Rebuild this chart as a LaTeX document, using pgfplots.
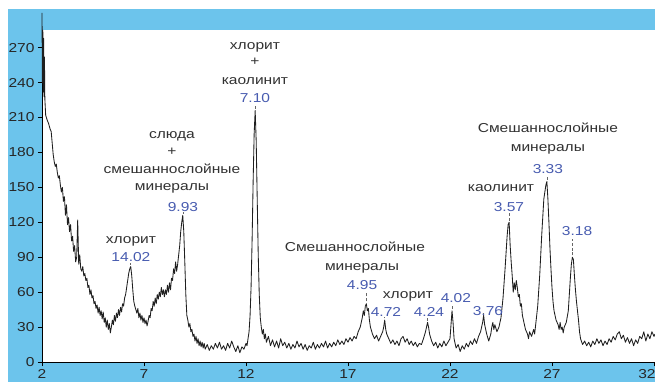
\documentclass[border=0pt]{standalone}
\usepackage{pgfplots}
\pgfplotsset{compat=1.18}
\usepackage{fontspec}
\setmainfont{Liberation Sans}[FakeStretch=1.2]
\definecolor{bgblue}{RGB}{108,196,236}
\definecolor{numblue}{RGB}{72,92,176}
\definecolor{labgray}{RGB}{50,50,50}
\newcommand{\lab}[3]{\node[text=labgray, font=\fontsize{13}{15}\selectfont, inner sep=0pt, anchor=base, yshift=-3.4bp] at (axis cs:#1,#2) {#3};}
\newcommand{\num}[3]{\node[text=numblue, font=\fontsize{13}{15}\selectfont, inner sep=0pt, anchor=base, yshift=-4.6bp] at (axis cs:#1,#2) {#3};}
\newcommand{\mk}[3]{\draw[densely dashed, black!60, line width=0.5pt] (axis cs:#1,#2) -- (axis cs:#1,#3);}
\begin{document}
\begin{tikzpicture}
\fill[white] (-42bp,-20bp) rectangle (613bp,362bp);
\fill[bgblue] (-34bp,-20bp) rectangle (613bp,353bp);
\useasboundingbox (-42bp,-20bp) rectangle (613bp,362bp);
\begin{axis}[
  at={(0,0)}, anchor=south west,
  scale only axis, width=613bp, height=332bp,
  xmin=2, xmax=32.05, ymin=0, ymax=285.2,
  axis x line=bottom, axis y line=left,
  axis line style={-, black, line width=0.8pt},
  xtick={2,7,12,17,22,27},
  extra x ticks={32},
  extra x tick style={xticklabel style={xshift=-7bp}},
  ytick={0,30,...,270},
  tick style={black, line width=0.6pt},
  major tick length=4bp,
  tick align=outside,
  axis background/.style={fill=white},
  clip=false,
  ticklabel style={font=\fontsize{13}{15}\selectfont, text=black!85},
  /pgf/number format/assume math mode=true,
  enlargelimits=false,
]
\addplot[line width=0.85pt, color=black!88, line join=round] coordinates {
(2.00,300) (2.02,240) (2.04,285) (2.06,232) (2.08,278) (2.10,228) (2.12,262) (2.14,226)
(2.18,212) (2.25,208) (2.32,205) (2.40,200) (2.45,198) (2.50,188) (2.55,178) (2.60,172)
(2.65,168) (2.70,170) (2.75,163) (2.80,158) (2.85,160) (2.90,152) (2.95,146) (3.00,150)
(3.05,138) (3.10,142) (3.15,126) (3.20,135) (3.25,118) (3.30,124) (3.35,112) (3.40,118)
(3.45,104) (3.50,108) (3.55,95) (3.60,100) (3.65,86) (3.70,90) (3.75,122) (3.80,84)
(3.85,92) (3.90,80) (3.95,78) (4.00,82) (4.05,74) (4.10,76) (4.15,70) (4.20,72)
(4.25,64) (4.30,66) (4.35,58) (4.40,62) (4.45,55) (4.50,57) (4.55,50) (4.60,52)
(4.65,46) (4.70,49) (4.75,42) (4.80,47) (4.85,40) (4.90,44) (4.95,37) (5.00,43)
(5.05,34) (5.10,38) (5.15,30) (5.20,36) (5.25,28) (5.30,33) (5.35,25) (5.40,30)
(5.45,36) (5.50,32) (5.55,40) (5.60,35) (5.65,42) (5.70,38) (5.75,45) (5.80,40)
(5.85,47) (5.90,43) (5.95,50) (6.00,48) (6.05,55) (6.10,58) (6.15,64) (6.20,70)
(6.25,76) (6.30,80) (6.35,82) (6.40,74) (6.45,62) (6.50,52) (6.55,48) (6.60,45)
(6.65,42) (6.70,46) (6.75,38) (6.80,42) (6.85,36) (6.90,40) (6.95,34) (7.00,38)
(7.05,33) (7.10,36) (7.15,31) (7.20,35) (7.25,40) (7.30,38) (7.35,46) (7.40,44)
(7.45,52) (7.50,48) (7.55,55) (7.60,50) (7.65,58) (7.70,54) (7.75,60) (7.80,56)
(7.85,64) (7.90,58) (7.95,62) (8.00,56) (8.05,62) (8.10,58) (8.15,66) (8.20,60)
(8.25,68) (8.30,62) (8.35,72) (8.40,70) (8.45,80) (8.50,76) (8.55,86) (8.60,78)
(8.65,84) (8.70,92) (8.75,100) (8.80,112) (8.85,120) (8.90,126) (8.95,112) (9.00,86)
(9.05,58) (9.10,40) (9.15,36) (9.20,30) (9.25,33) (9.30,26) (9.35,28) (9.40,22)
(9.45,24) (9.50,18) (9.55,22) (9.60,16) (9.65,20) (9.70,14) (9.75,18) (9.80,13)
(9.85,17) (9.90,12) (9.95,16) (10.0,11) (10.1,15) (10.2,10) (10.3,14) (10.4,11)
(10.5,16) (10.6,12) (10.7,17) (10.8,11) (10.9,14) (11.0,10) (11.1,16) (11.2,12)
(11.3,18) (11.4,13) (11.5,9) (11.6,14) (11.7,8) (11.8,13) (11.9,11) (12.0,16)
(12.05,14) (12.10,20) (12.15,26) (12.20,40) (12.25,65) (12.30,105) (12.35,155) (12.40,196)
(12.45,216) (12.50,190) (12.55,140) (12.60,92) (12.65,58) (12.70,38) (12.75,30) (12.80,24)
(12.85,28) (12.90,20) (12.95,24) (13.0,17) (13.1,22) (13.2,14) (13.3,19) (13.4,13)
(13.5,18) (13.6,12) (13.7,20) (13.8,14) (13.9,17) (14.0,12) (14.1,16) (14.2,11)
(14.3,15) (14.4,12) (14.5,18) (14.6,13) (14.7,16) (14.8,11) (14.9,15) (15.0,10)
(15.1,14) (15.2,12) (15.3,17) (15.4,11) (15.5,15) (15.6,12) (15.7,16) (15.8,13)
(15.9,18) (16.0,12) (16.1,16) (16.2,13) (16.3,17) (16.4,14) (16.5,19) (16.6,15)
(16.7,18) (16.8,15) (16.9,20) (17.0,17) (17.1,21) (17.2,18) (17.3,22) (17.4,20)
(17.5,26) (17.6,30) (17.7,38) (17.75,44) (17.8,40) (17.85,48) (17.9,50) (17.95,44)
(18.0,46) (18.05,36) (18.1,30) (18.2,24) (18.3,20) (18.4,23) (18.5,18) (18.6,22)
(18.7,26) (18.75,30) (18.8,36) (18.85,28) (18.9,24) (19.0,20) (19.1,16) (19.2,19)
(19.3,15) (19.4,18) (19.5,14) (19.6,20) (19.7,22) (19.8,17) (19.9,20) (20.0,15)
(20.1,18) (20.2,14) (20.3,17) (20.4,13) (20.5,16) (20.6,15) (20.7,20) (20.8,26)
(20.9,34) (20.95,30) (21.0,24) (21.1,18) (21.2,14) (21.3,17) (21.4,12) (21.5,16)
(21.6,13) (21.7,18) (21.8,14) (21.9,17) (22.0,20) (22.05,32) (22.1,44) (22.15,34)
(22.2,20) (22.3,12) (22.4,15) (22.5,9) (22.6,14) (22.7,11) (22.8,16) (22.9,13)
(23.0,18) (23.1,15) (23.2,20) (23.3,16) (23.4,22) (23.5,26) (23.6,34) (23.65,40)
(23.7,32) (23.8,24) (23.9,18) (24.0,24) (24.05,30) (24.1,34) (24.15,28) (24.2,32)
(24.3,26) (24.4,30) (24.5,38) (24.6,55) (24.7,80) (24.8,108) (24.85,118) (24.9,120)
(24.95,100) (25.0,86) (25.05,74) (25.1,60) (25.15,68) (25.2,62) (25.25,70) (25.3,64)
(25.35,56) (25.4,58) (25.45,48) (25.5,50) (25.55,40) (25.6,36) (25.7,28) (25.8,24)
(25.85,20) (25.9,26) (26.0,22) (26.1,28) (26.15,24) (26.2,32) (26.3,48) (26.4,75)
(26.5,110) (26.6,140) (26.7,152) (26.75,155) (26.8,140) (26.85,120) (26.9,98) (26.95,80)
(27.0,64) (27.05,52) (27.1,44) (27.15,40) (27.2,36) (27.3,32) (27.35,28) (27.4,34)
(27.45,28) (27.5,30) (27.55,25) (27.6,30) (27.7,34) (27.8,44) (27.85,58) (27.9,72)
(27.95,84) (28.0,90) (28.05,88) (28.1,74) (28.15,62) (28.2,52) (28.25,44) (28.3,36)
(28.35,26) (28.4,20) (28.5,15) (28.6,18) (28.7,14) (28.8,17) (28.9,13) (29.0,18)
(29.1,15) (29.2,20) (29.3,16) (29.4,19) (29.5,14) (29.6,18) (29.7,15) (29.8,20)
(29.9,17) (30.0,22) (30.1,19) (30.2,24) (30.3,26) (30.4,20) (30.5,23) (30.6,17)
(30.7,21) (30.8,16) (30.9,20) (31.0,14) (31.1,19) (31.2,16) (31.3,22) (31.4,20)
(31.5,26) (31.6,18) (31.7,24) (31.8,20) (31.9,26) (32.0,22) (32.05,24)
};
% annotations
\lab{12.44}{271.5}{хлорит}
\lab{12.44}{257.7}{+}
\lab{12.44}{241.4}{каолинит}
\num{12.44}{226.8}{7.10}
\mk{12.45}{217.5}{221.5}
\lab{8.37}{195}{слюда}
\lab{8.37}{180.4}{+}
\lab{8.37}{165}{смешаннослойные}
\lab{8.37}{150.3}{минералы}
\num{8.91}{133.2}{9.93}
\mk{8.90}{127.5}{128.5}
\lab{6.36}{104.8}{хлорит}
\num{6.36}{90.2}{14.02}
\mk{6.35}{83.5}{85}
\lab{17.34}{97.9}{Смешаннослойные}
\lab{17.69}{81.6}{минералы}
\num{17.69}{66.2}{4.95}
\mk{17.9}{52}{60}
\lab{19.94}{57.6}{хлорит}
\num{18.86}{43}{4.72}
\mk{18.8}{37.5}{38.5}
\num{20.97}{43}{4.24}
\mk{20.9}{35.5}{38}
\num{22.29}{55}{4.02}
\mk{22.1}{45.5}{49}
\num{23.86}{43.8}{3.76}
\mk{23.65}{41.5}{42}
\lab{24.5}{149.5}{каолинит}
\num{24.89}{133.2}{3.57}
\mk{24.9}{121.5}{128}
\lab{26.8}{200.2}{Смешаннослойные}
\lab{26.8}{183.8}{минералы}
\num{26.8}{165.8}{3.33}
\mk{26.75}{156.5}{160.5}
\num{28.23}{112.5}{3.18}
\mk{28.0}{91.5}{106}
\end{axis}
\end{tikzpicture}
\end{document}
